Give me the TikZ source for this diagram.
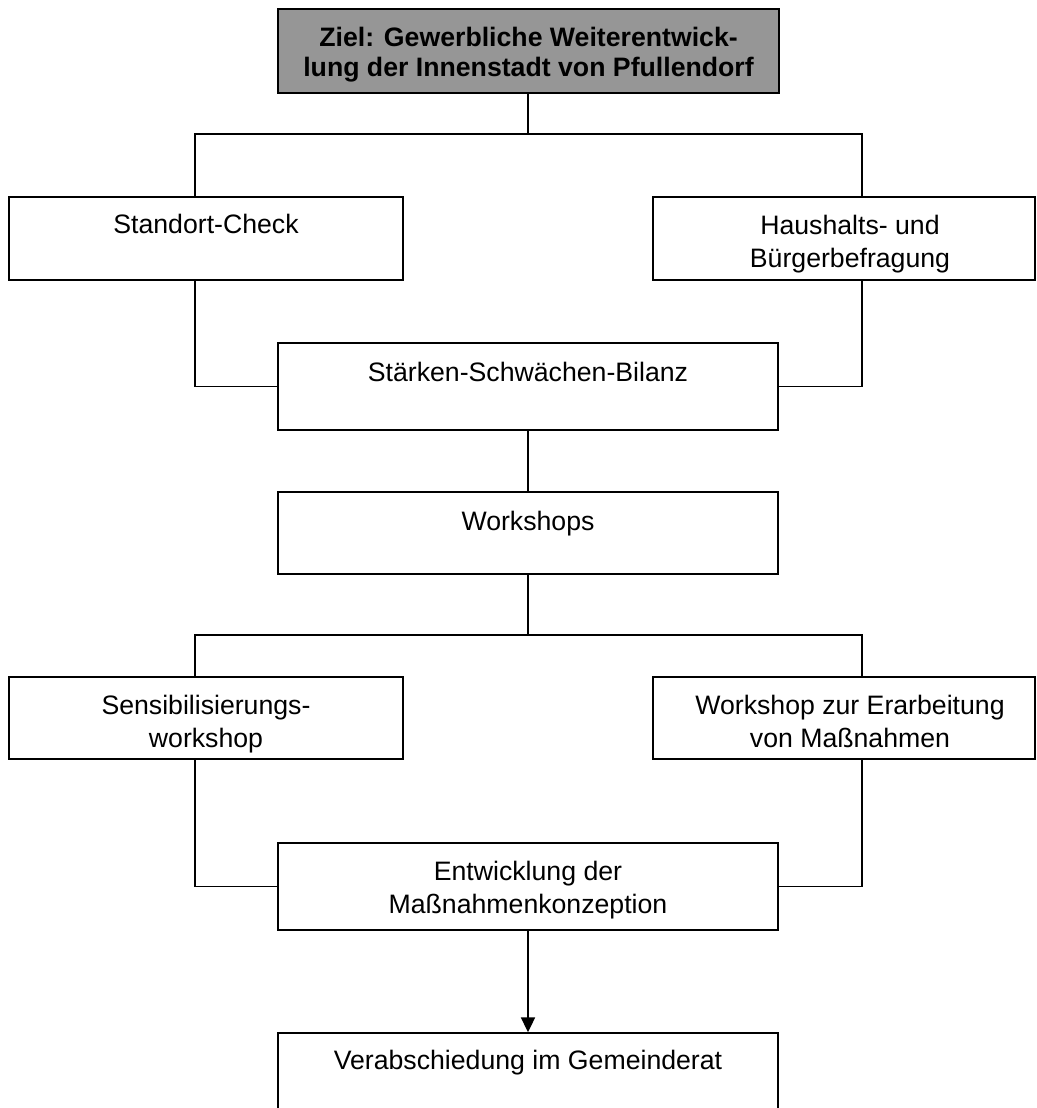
\documentclass[tikz,border=0pt]{standalone}
\usepackage{fontspec}
\setmainfont{Liberation Sans}
\usetikzlibrary{arrows.meta,fit}
\definecolor{titlegray}{RGB}{150,150,150}
\begin{document}
\begin{tikzpicture}[x=0.75pt,y=-0.75pt,
  box/.style={draw=black, line width=1.3pt, rectangle, inner sep=0pt, fill=white},
  titlebox/.style={box, fill=titlegray},
  lbl/.style={font=\fontsize{20}{24.5}\selectfont, align=center, inner sep=0pt, anchor=base},
  ttl/.style={font=\fontsize{20}{22.5}\selectfont\bfseries, align=center, inner sep=0pt, anchor=base},
  conn/.style={draw=black, line width=1.3pt, line join=miter}
]
\useasboundingbox (0,0) rectangle (1037,1108);
\fill[white] (0,0) rectangle (1037,1108);

% boxes
\node[titlebox, fit={(278,9) (779,93)}] (top) {};
\node[box, fit={(9,197) (403,280)}] (std) {};
\node[box, fit={(653,197) (1035,280)}] (hh) {};
\node[box, fit={(278,343) (778,430)}] (ssb) {};
\node[box, fit={(278,492) (778,574)}] (ws) {};
\node[box, fit={(9,677) (403,759)}] (sen) {};
\node[box, fit={(653,677) (1035,759)}] (wz) {};
\node[box, fit={(278,843) (778,930)}] (ent) {};
\node[box, fit={(278,1033) (778,1130)}] (ver) {};

% texts (base anchor = baseline of the last line)
\node[ttl] (top-t) at (528.5,76) {Ziel: Gewerbliche Weiterentwick-\\lung der Innenstadt von Pfullendorf};
\node[lbl] (std-t) at (206,233) {Standort-Check};
\node[lbl] (hh-t) at (850,267) {Haushalts- und\\Bürgerbefragung};
\node[lbl] (ssb-t) at (528,381) {Stärken-Schwächen-Bilanz};
\node[lbl] (ws-t) at (528,530) {Workshops};
\node[lbl] (sen-t) at (206,747) {Sensibilisierungs-\\workshop};
\node[lbl] (wz-t) at (850,747) {Workshop zur Erarbeitung\\von Maßnahmen};
\node[lbl] (ent-t) at (528,913) {Entwicklung der\\Maßnahmenkonzeption};
\node[lbl] (ver-t) at (528,1069) {Verabschiedung im Gemeinderat};

% helper coordinates
\coordinate (L) at (195,0);
\coordinate (R) at (862,0);
\coordinate (j1) at (528,134);
\coordinate (j2) at (528,635);

% connectors
\draw[conn] (top.south -| j1) -- (j1);
\draw[conn] (std.north -| L) |- (j1) -| (hh.north -| R);
\draw[conn] (std.south -| L) |- (ssb.west);
\draw[conn] (hh.south -| R) |- (ssb.east);
\draw[conn] (ssb.south) -- (ws.north);
\draw[conn] (ws.south) -- (j2);
\draw[conn] (sen.north -| L) |- (j2) -| (wz.north -| R);
\draw[conn] (sen.south -| L) |- (ent.west);
\draw[conn] (wz.south -| R) |- (ent.east);
\draw[conn, -{Triangle[width=10.5pt,length=11pt]}] (ent.south) -- (ver.north);
\end{tikzpicture}
\end{document}
